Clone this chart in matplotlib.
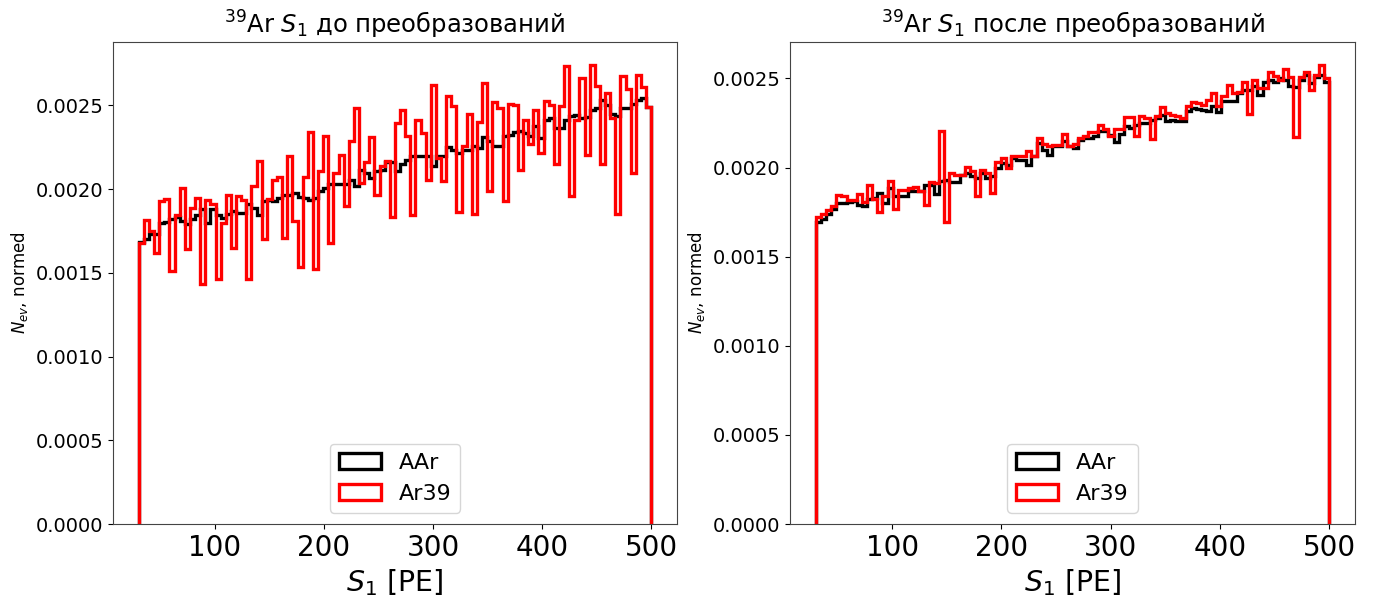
import numpy as np
import matplotlib
matplotlib.use('Agg')
import matplotlib.pyplot as plt

# 100 бинов от 30 до 500 PE
s1_range = (30, 500)
n_bins = 100

aar_before = [
    0.001686, 0.001704, 0.001734, 0.001734, 0.001799, 0.001805, 0.001823, 0.001833, 0.001809, 0.001790,
    0.001823, 0.001843, 0.001879, 0.001799, 0.001879, 0.001843, 0.001825, 0.001849, 0.001869, 0.001859,
    0.001859, 0.001909, 0.001889, 0.001843, 0.001928, 0.001938, 0.001928, 0.001948, 0.001968, 0.001968,
    0.001978, 0.001954, 0.001948, 0.001938, 0.001948, 0.001988, 0.002008, 0.002028, 0.002028, 0.002028,
    0.002028, 0.002053, 0.002018, 0.002113, 0.002097, 0.002067, 0.002107, 0.002117, 0.002161, 0.002161,
    0.002107, 0.002153, 0.002172, 0.002196, 0.002196, 0.002200, 0.002196, 0.002137, 0.002196, 0.002196,
    0.002252, 0.002232, 0.002216, 0.002236, 0.002232, 0.002256, 0.002246, 0.002309, 0.002286, 0.002256,
    0.002256, 0.002315, 0.002325, 0.002339, 0.002345, 0.002335, 0.002315, 0.002375, 0.002305, 0.002415,
    0.002424, 0.002365, 0.002365, 0.002415, 0.002438, 0.002444, 0.002424, 0.002434, 0.002474, 0.002484,
    0.002534, 0.002504, 0.002450, 0.002438, 0.002484, 0.002484, 0.002510, 0.002534, 0.002543, 0.002490,
]
ar39_before = [
    0.001677, 0.001815, 0.001750, 0.001617, 0.001928, 0.001942, 0.001512, 0.001843, 0.002008, 0.001641,
    0.001889, 0.001948, 0.001436, 0.001934, 0.001909, 0.001466, 0.001800, 0.001968, 0.001651, 0.001962,
    0.001934, 0.001462, 0.002018, 0.002167, 0.001700, 0.001942, 0.002053, 0.002073, 0.001706, 0.002196,
    0.001810, 0.001536, 0.002073, 0.002339, 0.001522, 0.002107, 0.002320, 0.001680, 0.002097, 0.002206,
    0.001899, 0.002286, 0.002484, 0.002038, 0.002161, 0.002309, 0.001968, 0.002141, 0.002167, 0.001835,
    0.002395, 0.002470, 0.002315, 0.001843, 0.002415, 0.002335, 0.002057, 0.002623, 0.002186, 0.002048,
    0.002557, 0.002498, 0.001863, 0.002260, 0.002450, 0.001849, 0.002400, 0.002637, 0.001988, 0.002518,
    0.002484, 0.001928, 0.002510, 0.002504, 0.002117, 0.002415, 0.002272, 0.002474, 0.002216, 0.002528,
    0.002504, 0.002153, 0.002498, 0.002736, 0.001962, 0.002415, 0.002663, 0.002204, 0.002742, 0.002617,
    0.002153, 0.002577, 0.002424, 0.001849, 0.002676, 0.002597, 0.002097, 0.002682, 0.002613, 0.002490,
]

aar_after = [
    0.001695, 0.001710, 0.001738, 0.001765, 0.001803, 0.001799, 0.001807, 0.001812, 0.001788, 0.001784,
    0.001821, 0.001831, 0.001859, 0.001803, 0.001887, 0.001840, 0.001840, 0.001840, 0.001868, 0.001868,
    0.001868, 0.001905, 0.001905, 0.001850, 0.001924, 0.001933, 0.001918, 0.001918, 0.001961, 0.001971,
    0.001952, 0.001943, 0.001971, 0.001943, 0.001952, 0.001998, 0.002026, 0.002017, 0.002054, 0.002045,
    0.002045, 0.002017, 0.002064, 0.002138, 0.002101, 0.002073, 0.002120, 0.002120, 0.002148, 0.002120,
    0.002110, 0.002157, 0.002166, 0.002166, 0.002176, 0.002204, 0.002204, 0.002185, 0.002142, 0.002191,
    0.002232, 0.002222, 0.002241, 0.002250, 0.002250, 0.002269, 0.002278, 0.002297, 0.002260, 0.002269,
    0.002260, 0.002260, 0.002315, 0.002334, 0.002328, 0.002325, 0.002315, 0.002343, 0.002310, 0.002371,
    0.002371, 0.002371, 0.002418, 0.002437, 0.002437, 0.002455, 0.002409, 0.002483, 0.002489, 0.002483,
    0.002502, 0.002492, 0.002455, 0.002451, 0.002492, 0.002520, 0.002474, 0.002511, 0.002520, 0.002483,
]
ar39_after = [
    0.001723, 0.001737, 0.001762, 0.001784, 0.001844, 0.001840, 0.001818, 0.001818, 0.001850, 0.001806,
    0.001900, 0.001825, 0.001751, 0.001840, 0.001924, 0.001765, 0.001877, 0.001877, 0.001887, 0.001892,
    0.001868, 0.001790, 0.001918, 0.001915, 0.002204, 0.001696, 0.001971, 0.001961, 0.001961, 0.002002,
    0.001980, 0.001840, 0.001989, 0.001971, 0.001855, 0.002030, 0.002054, 0.001998, 0.002064, 0.002064,
    0.002064, 0.002092, 0.002064, 0.002166, 0.002135, 0.002123, 0.002129, 0.002129, 0.002190, 0.002123,
    0.002135, 0.002166, 0.002176, 0.002198, 0.002198, 0.002241, 0.002217, 0.002176, 0.002217, 0.002217,
    0.002284, 0.002282, 0.002180, 0.002291, 0.002278, 0.002160, 0.002287, 0.002340, 0.002306, 0.002297,
    0.002291, 0.002278, 0.002343, 0.002366, 0.002362, 0.002353, 0.002377, 0.002418, 0.002343, 0.002400,
    0.002465, 0.002418, 0.002422, 0.002478, 0.002302, 0.002490, 0.002446, 0.002446, 0.002534, 0.002515,
    0.002490, 0.002552, 0.002511, 0.002172, 0.002507, 0.002539, 0.002433, 0.002521, 0.002576, 0.002502,
]

titles = [r'$^{39}$Ar $S_1$ до преобразований', r'$^{39}$Ar $S_1$ после преобразований']
labels = ['AAr', 'Ar39']
colors = ['black', 'red']

edges = np.linspace(s1_range[0], s1_range[1], n_bins + 1)
centers = 0.5 * (edges[1:] + edges[:-1])

fig = plt.figure(figsize=(13.73, 5.98), dpi=100)
axes = [fig.add_axes([0.0823, 0.1237, 0.4107, 0.8061]),
        fig.add_axes([0.5754, 0.1237, 0.4115, 0.8061])]

for ax, title, (aar, ar39) in zip(axes, titles,
                                  [(aar_before, ar39_before), (aar_after, ar39_after)]):
    for vals, lab, col in zip([aar, ar39], labels, colors):
        ax.hist(centers, bins=edges, weights=vals, histtype='step',
                color=col, linewidth=2.4, label=lab)
    ax.set_title(title, fontsize=17.5)
    ax.set_xlabel(r'$S_1$ [PE]', fontsize=20.5)
    ax.set_ylabel(r'$N_{ev}$, normed', fontsize=12)
    ax.tick_params(axis='x', labelsize=20)
    ax.tick_params(axis='y', labelsize=14)
    for sp in ax.spines.values():
        sp.set_edgecolor('#444444')
    ax.legend(loc='lower center', fontsize=16, handlelength=1.9)

plt.savefig('out.png', dpi=100)
